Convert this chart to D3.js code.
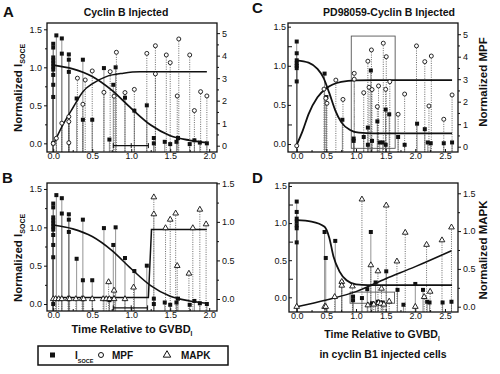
<!DOCTYPE html>
<html>
<head>
<meta charset="utf-8">
<script src="https://cdn.jsdelivr.net/npm/d3@7"></script>
<style>
body { margin: 0; background: #fff; }
svg text { font-family: "Liberation Sans", Arial, sans-serif; fill: #111; }
.tick text { font-size: 9px; font-weight: normal; }
.tick line { stroke: #111; }
</style>
</head>
<body>
<svg id="chart" width="500" height="374"></svg>
<script>
// ---- data: [time relative to GVBD, value] ----
// A and B share the same I_SOCE recordings
var soceAB = [[0,1.31],[0,1.26],[0,1.13],[0,1.09],[0,1.05],[0,1.01],[0,0.97],[0,0.90],[0,0.77],[0,0.61],[0,0.0],
  [0.04,1.42],[0.11,1.38],[0.11,1.18],[0.2,1.17],[0.2,1.10],[0.2,0.94],[0.3,0.59],[0.38,1.10],[0.38,0.31],
  [0.5,0.31],[0.65,0.99],[0.72,0.05],[0.77,0.77],[0.8,1.0],[0.92,0.6],[1.04,0.43],[1.2,0.5],[1.29,0.07],
  [1.29,0.0],[1.43,0.02],[1.5,-0.01],[1.58,0.02],[1.6,0.07],[1.75,-0.01],[1.81,0.04],[1.88,0.01],[1.97,0.0]];
var soceFitAB = [[0,1.03],[0.25,0.98],[0.5,0.88],[0.75,0.7],[1.0,0.46],[1.25,0.24],[1.5,0.1],[1.75,0.04],[1.97,0.01]];
var mpfA = [[0,0.1],[0.04,0.33],[0.11,1.0],[0.2,1.29],[0.2,1.07],[0.2,0.13],[0.31,3.0],[0.38,1.84],[0.41,2.92],
  [0.5,3.32],[0.65,2.37],[0.73,3.29],[0.78,2.2],[0.81,4.15],[0.92,2.36],[1.04,2.5],[1.2,4.1],[1.31,4.44],
  [1.31,3.19],[1.45,4.03],[1.5,3.69],[1.59,2.21],[1.61,4.74],[1.75,4.03],[1.81,1.56],[1.89,2.4],[1.97,2.21]];
var mpfFitA = [[0,0.05],[0.11,0.84],[0.26,1.73],[0.38,2.4],[0.51,2.77],[0.68,3.07],[0.9,3.22],[1.11,3.28],[1.97,3.28]];
var barA = [0.77, 1.0, 1.22, -0.03];
var barB = [0.77, 1.0, 1.21, -0.05];

var mapkB = [[0,0],[0.03,0],[0.07,0],[0.11,0],[0.19,0],[0.21,0],[0.29,0],[0.37,0],[0.39,0],[0.5,0],[0.64,0],
  [0.68,0],[0.72,0],[0.78,0],[0.92,0],[0.71,0.22],[0.78,0.11],[1.03,0.15],[1.29,1.32],[1.29,1.1],[1.44,0.92],
  [1.5,1.03],[1.57,1.11],[1.59,0.43],[1.74,0.33],[1.79,0.92],[1.88,1.16],[1.96,0.97]];
var mapkStepB = [[0,0.02],[1.22,0.02],[1.26,0.9],[1.97,0.9]];

var soceC = [[0,1.31],[0,1.16],[0,1.07],[0,1.03],[0,1.0],[0,0.97],[0,0.8],[0.47,0.9],[0.5,0.6],[0.77,0.31],
  [0.96,0.04],[0.96,0.07],[1.13,0.09],[1.2,0.21],[1.2,-0.01],[1.25,0.94],[1.27,0.04],[1.36,0.29],[1.4,0.02],
  [1.45,0.02],[1.5,0.44],[1.5,-0.01],[1.56,0.38],[1.71,0.09],[1.82,-0.01],[2.03,0.26],[2.16,0.19],[2.21,0.02],
  [2.26,0.01],[2.48,0.01],[2.62,0.02]];
var soceFitC = [[0,1.07],[0.2,1.04],[0.35,0.96],[0.45,0.85],[0.55,0.65],[0.65,0.43],[0.75,0.28],[0.9,0.18],
  [1.05,0.145],[1.3,0.137],[2.62,0.137]];
var mpfC = [[0,0.04],[0.46,2.56],[0.49,2.15],[0.51,1.93],[0.66,2.96],[0.78,2.1],[0.97,3.26],[0.97,3.0],[1.13,2.4],
  [1.2,3.8],[1.22,2.64],[1.26,4.3],[1.27,2.54],[1.36,1.78],[1.38,2.7],[1.46,4.6],[1.5,2.55],[1.51,4.0],[1.57,2.89],
  [1.71,1.44],[1.82,2.34],[2.02,4.48],[2.16,3.78],[2.23,1.81],[2.27,4.03],[2.48,1.22],[2.62,2.3]];
var mpfFitC = [[0,0.08],[0.1,0.7],[0.2,1.45],[0.35,2.2],[0.5,2.6],[0.75,2.88],[1.0,2.95],[1.3,2.96],[2.62,2.96]];
var boxC = [0.92, 1.66, -0.055, 1.38];

var soceD = [[0,1.29],[0,1.15],[0,1.06],[0,1.02],[0,0.97],[0,0.93],[0,0.74],[0.47,0.88],[0.49,0.53],[0.65,0.76],
  [0.76,0.2],[0.95,0.01],[0.95,-0.04],[1.1,-0.01],[1.19,0.11],[1.25,0.88],[1.27,-0.08],[1.33,0.2],[1.37,-0.06],
  [1.45,-0.07],[1.51,0.35],[1.7,0.1],[1.8,-0.1],[2.0,0.18],[2.13,0.1],[2.2,-0.06],[2.24,-0.07],[2.46,-0.07],[2.61,-0.06]];
var soceFitD = [[0,1.04],[0.25,1.02],[0.47,0.95],[0.55,0.8],[0.62,0.55],[0.72,0.35],[0.84,0.23],[1.0,0.175],
  [1.2,0.165],[2.62,0.165]];
var mapkD = [[0,0],[0.47,0],[0.49,0],[0.64,0.13],[0.76,0.33],[0.76,0.28],[0.94,0.27],[1.1,1.42],[1.25,0.55],
  [1.37,0.47],[1.43,0.24],[1.2,0.02],[1.3,0.03],[1.38,0.05],[1.42,0.04],[1.47,0.03],[1.51,1.34],[1.56,0.07],
  [1.69,0.6],[1.83,0.98],[2.0,0],[2.15,0.13],[2.19,0.82],[2.25,0.2],[2.45,0.88],[2.61,1.05]];
var mapkFitD = [[0,0],[0.5,0.09],[1.0,0.2],[1.5,0.37],[2.0,0.53],[2.61,0.74]];
var boxD = [0.9, 1.65, -0.08, 0.07];

var xTicksAB = [0, 0.5, 1, 1.5, 2];
var xTicksCD = [0, 0.5, 1, 1.5, 2, 2.5];
var halfTicks = [0, 0.5, 1, 1.5];
var mpfTicks = [0, 1, 2, 3, 4, 5];

var svg = d3.select("#chart");
var fmt1 = d3.format(".1f");

function minors(ticks, step)
{
    var out = [];
    ticks.forEach(function(t) { out.push(t + step); });
    return out;
}

function drawMarks(g, data, x, y, shape)
{
    var sel = g.append("g").selectAll(null).data(data).enter();
    if (shape == "square") {
        sel.append("rect")
            .attr("x", function(d) { return x(d[0]) - 2; })
            .attr("y", function(d) { return y(d[1]) - 2; })
            .attr("width", 4).attr("height", 4)
            .attr("fill", "#111");
    } else if (shape == "circle") {
        sel.append("circle")
            .attr("cx", function(d) { return x(d[0]); })
            .attr("cy", function(d) { return y(d[1]); })
            .attr("r", 2).attr("fill", "#fff").attr("stroke", "#111").attr("stroke-width", 0.9);
    } else {
        var tri = d3.symbol().type(d3.symbolTriangle).size(14);
        sel.append("path")
            .attr("d", tri)
            .attr("transform", function(d) { return "translate(" + x(d[0]) + "," + y(d[1]) + ")"; })
            .attr("fill", "#fff").attr("stroke", "#111").attr("stroke-width", 0.9);
    }
}

function drawDrops(g, data, x, y, bottom, dashed)
{
    g.append("g").selectAll(null).data(data).enter().append("line")
        .attr("x1", function(d) { return x(d[0]); })
        .attr("x2", function(d) { return x(d[0]); })
        .attr("y1", function(d) { return y(d[1]); })
        .attr("y2", bottom)
        .attr("stroke", dashed ? "#444" : "#666")
        .attr("stroke-width", dashed ? 0.8 : 0.7)
        .attr("stroke-dasharray", dashed ? "1,1.3" : null);
}

function drawPanel(o)
{
    var x = d3.scaleLinear().domain(o.xDom).range([o.l, o.r]);
    var yL = d3.scaleLinear().domain(o.yLDom).range([o.b, o.t]);
    var yR = d3.scaleLinear().domain(o.yRDom).range([o.b, o.t]);
    var g = svg.append("g");

    if (o.box) {
        g.append("rect")
            .attr("x", x(o.box[0])).attr("y", yL(o.box[3]))
            .attr("width", x(o.box[1]) - x(o.box[0]))
            .attr("height", yL(o.box[2]) - yL(o.box[3]))
            .attr("fill", "none").attr("stroke", "#555").attr("stroke-width", 0.9);
    }

    o.series.forEach(function(s) {
        drawDrops(g, s.data, x, s.right ? yR : yL, o.b, s.shape != "square");
    });

    o.fits.forEach(function(f) {
        var y = f.right ? yR : yL;
        var line = d3.line()
            .x(function(d) { return x(d[0]); })
            .y(function(d) { return y(d[1]); })
            .curve(f.step ? d3.curveLinear : d3.curveMonotoneX);
        g.append("path").attr("d", line(f.data))
            .attr("fill", "none").attr("stroke", "#111").attr("stroke-width", f.w);
    });

    if (o.bar) {
        var by = yL(o.bar[3]);
        g.append("line").attr("x1", x(o.bar[0])).attr("x2", x(o.bar[2]))
            .attr("y1", by).attr("y2", by).attr("stroke", "#111").attr("stroke-width", 1.4);
        g.selectAll(null).data([o.bar[0], o.bar[1], o.bar[2]]).enter().append("line")
            .attr("x1", function(d) { return x(d); }).attr("x2", function(d) { return x(d); })
            .attr("y1", by - 2.5).attr("y2", by + 2.5)
            .attr("stroke", "#111").attr("stroke-width", 1);
    }

    o.series.forEach(function(s) {
        drawMarks(g, s.data, x, s.right ? yR : yL, s.shape);
    });

    g.append("rect")
        .attr("x", o.l).attr("y", o.t).attr("width", o.r - o.l).attr("height", o.b - o.t)
        .attr("fill", "none").attr("stroke", "#111").attr("stroke-width", 1.3);

    // axes (x ticks point inward so the labels sit close to the frame)
    g.append("g").attr("transform", "translate(0," + o.b + ")")
        .call(d3.axisBottom(x).tickValues(o.xTicks).tickFormat(fmt1).tickSize(-3).tickPadding(0.5));
    g.append("g").attr("transform", "translate(0," + o.b + ")")
        .call(d3.axisBottom(x).tickValues(minors(o.xTicks, 0.25).filter(function(v) { return x(v) < o.r; }))
        .tickFormat("").tickSize(-2));
    g.append("g").attr("transform", "translate(" + o.l + ",0)")
        .call(d3.axisLeft(yL).tickValues(halfTicks).tickFormat(fmt1).tickSize(o.lTick).tickPadding(2));
    g.append("g").attr("transform", "translate(" + o.l + ",0)")
        .call(d3.axisLeft(yL).tickValues(minors(halfTicks, 0.25).slice(0, 3)).tickFormat("").tickSize(o.lTick - 1));
    g.append("g").attr("transform", "translate(" + o.r + ",0)")
        .call(d3.axisRight(yR).tickValues(o.rTicks).tickFormat(o.rFmt).tickSize(3).tickPadding(2));
    g.append("g").attr("transform", "translate(" + o.r + ",0)")
        .call(d3.axisRight(yR).tickValues(minors(o.rTicks, o.rMinor).slice(0, o.rTicks.length - 1))
        .tickFormat("").tickSize(2));
    g.selectAll(".domain").remove();
    g.selectAll(".tick text").attr("fill", "#111");
}

drawPanel({
    l: 47, r: 217, t: 23, b: 152,
    xDom: [-0.08, 2.1], yLDom: [-0.114, 1.583], yRDom: [-0.28, 5.45],
    xTicks: xTicksAB, rTicks: mpfTicks, rFmt: d3.format("d"), rMinor: 0.5, lTick: 3,
    bar: barA,
    series: [{data: soceAB, shape: "square"}, {data: mpfA, shape: "circle", right: true}],
    fits: [{data: soceFitAB, w: 1.8}, {data: mpfFitA, right: true, w: 1.5}]
});

drawPanel({
    l: 47, r: 217, t: 183, b: 311,
    xDom: [-0.08, 2.1], yLDom: [-0.091, 1.578], yRDom: [-0.156, 1.504],
    xTicks: xTicksAB, rTicks: halfTicks, rFmt: fmt1, rMinor: 0.25, lTick: 3,
    bar: barB,
    series: [{data: soceAB, shape: "square"}, {data: mapkB, shape: "triangle", right: true}],
    fits: [{data: soceFitAB, w: 1.6}, {data: mapkStepB, right: true, step: true, w: 1.5}]
});

drawPanel({
    l: 288, r: 458, t: 23, b: 152,
    xDom: [-0.147, 2.72], yLDom: [-0.102, 1.547], yRDom: [-0.236, 5.498],
    xTicks: xTicksCD, rTicks: mpfTicks, rFmt: d3.format("d"), rMinor: 0.5, lTick: -3,
    box: boxC,
    series: [{data: soceC, shape: "square"}, {data: mpfC, shape: "circle", right: true}],
    fits: [{data: soceFitC, w: 1.8}, {data: mpfFitC, right: true, w: 1.8}]
});

drawPanel({
    l: 289, r: 458, t: 183, b: 312,
    xDom: [-0.13, 2.72], yLDom: [-0.198, 1.54], yRDom: [-0.07, 1.636],
    xTicks: xTicksCD, rTicks: halfTicks, rFmt: fmt1, rMinor: 0.25, lTick: -3,
    box: boxD,
    series: [{data: soceD, shape: "square"}, {data: mapkD, shape: "triangle", right: true}],
    fits: [{data: soceFitD, w: 1.8}, {data: mapkFitD, right: true, w: 1.5}]
});

// ---- labels ----
function label(txt, x, y, size, anchor)
{
    return svg.append("text").attr("x", x).attr("y", y)
        .attr("font-size", size).attr("font-weight", "bold")
        .attr("text-anchor", anchor || "middle").text(txt);
}

label("A", 3, 17, 15, "start");
label("B", 2, 183, 15, "start");
label("C", 252, 13, 15, "start");
label("D", 252, 183, 15, "start");

label("Cyclin B Injected", 126, 16, 10.5);
label("PD98059-Cyclin B Injected", 389, 16, 10.5);

function soceLabel(cy)
{
    var t = svg.append("text").attr("transform", "translate(22," + cy + ") rotate(-90)")
        .attr("font-size", 11.5).attr("font-weight", "bold").attr("text-anchor", "middle");
    t.append("tspan").text("Normalized I");
    t.append("tspan").attr("font-size", 7).attr("dy", 3).text("SOCE");
}
soceLabel(88);
soceLabel(258);

svg.append("text").attr("transform", "translate(487,82) rotate(-90)")
    .attr("font-size", 11.5).attr("font-weight", "bold").attr("text-anchor", "middle").text("Normalized MPF");
svg.append("text").attr("transform", "translate(487,250) rotate(-90)")
    .attr("font-size", 11.5).attr("font-weight", "bold").attr("text-anchor", "middle").text("Normalized MAPK");

function gvbdLabel(cx, cy, size)
{
    var t = svg.append("text").attr("x", cx).attr("y", cy)
        .attr("font-size", size).attr("font-weight", "bold").attr("text-anchor", "middle");
    t.append("tspan").text("Time Relative to GVBD");
    t.append("tspan").attr("font-size", size * 0.6).attr("dy", 3).text("I");
}
gvbdLabel(132, 333, 11);
gvbdLabel(382, 338, 10.5);
label("in cyclin B1 injected cells", 383, 358, 10.5);

// ---- legend ----
var lg = svg.append("g");
lg.append("rect").attr("x", 38).attr("y", 346).attr("width", 190).attr("height", 19)
    .attr("fill", "#fff").attr("stroke", "#111").attr("stroke-width", 1.5);
lg.append("rect").attr("x", 50).attr("y", 352.5).attr("width", 5).attr("height", 5).attr("fill", "#111");
var li = lg.append("text").attr("x", 75).attr("y", 359).attr("font-size", 10).attr("font-weight", "bold");
li.append("tspan").text("I");
li.append("tspan").attr("font-size", 5.5).attr("dy", 4).text("SOCE");
lg.append("circle").attr("cx", 101).attr("cy", 355).attr("r", 2.5)
    .attr("fill", "#fff").attr("stroke", "#111").attr("stroke-width", 1);
lg.append("text").attr("x", 112).attr("y", 359).attr("font-size", 10).attr("font-weight", "bold").text("MPF");
lg.append("path").attr("d", d3.symbol().type(d3.symbolTriangle).size(24))
    .attr("transform", "translate(167,355)").attr("fill", "#fff").attr("stroke", "#111").attr("stroke-width", 1);
lg.append("text").attr("x", 181).attr("y", 359).attr("font-size", 10).attr("font-weight", "bold").text("MAPK");
</script>
</body>
</html>
